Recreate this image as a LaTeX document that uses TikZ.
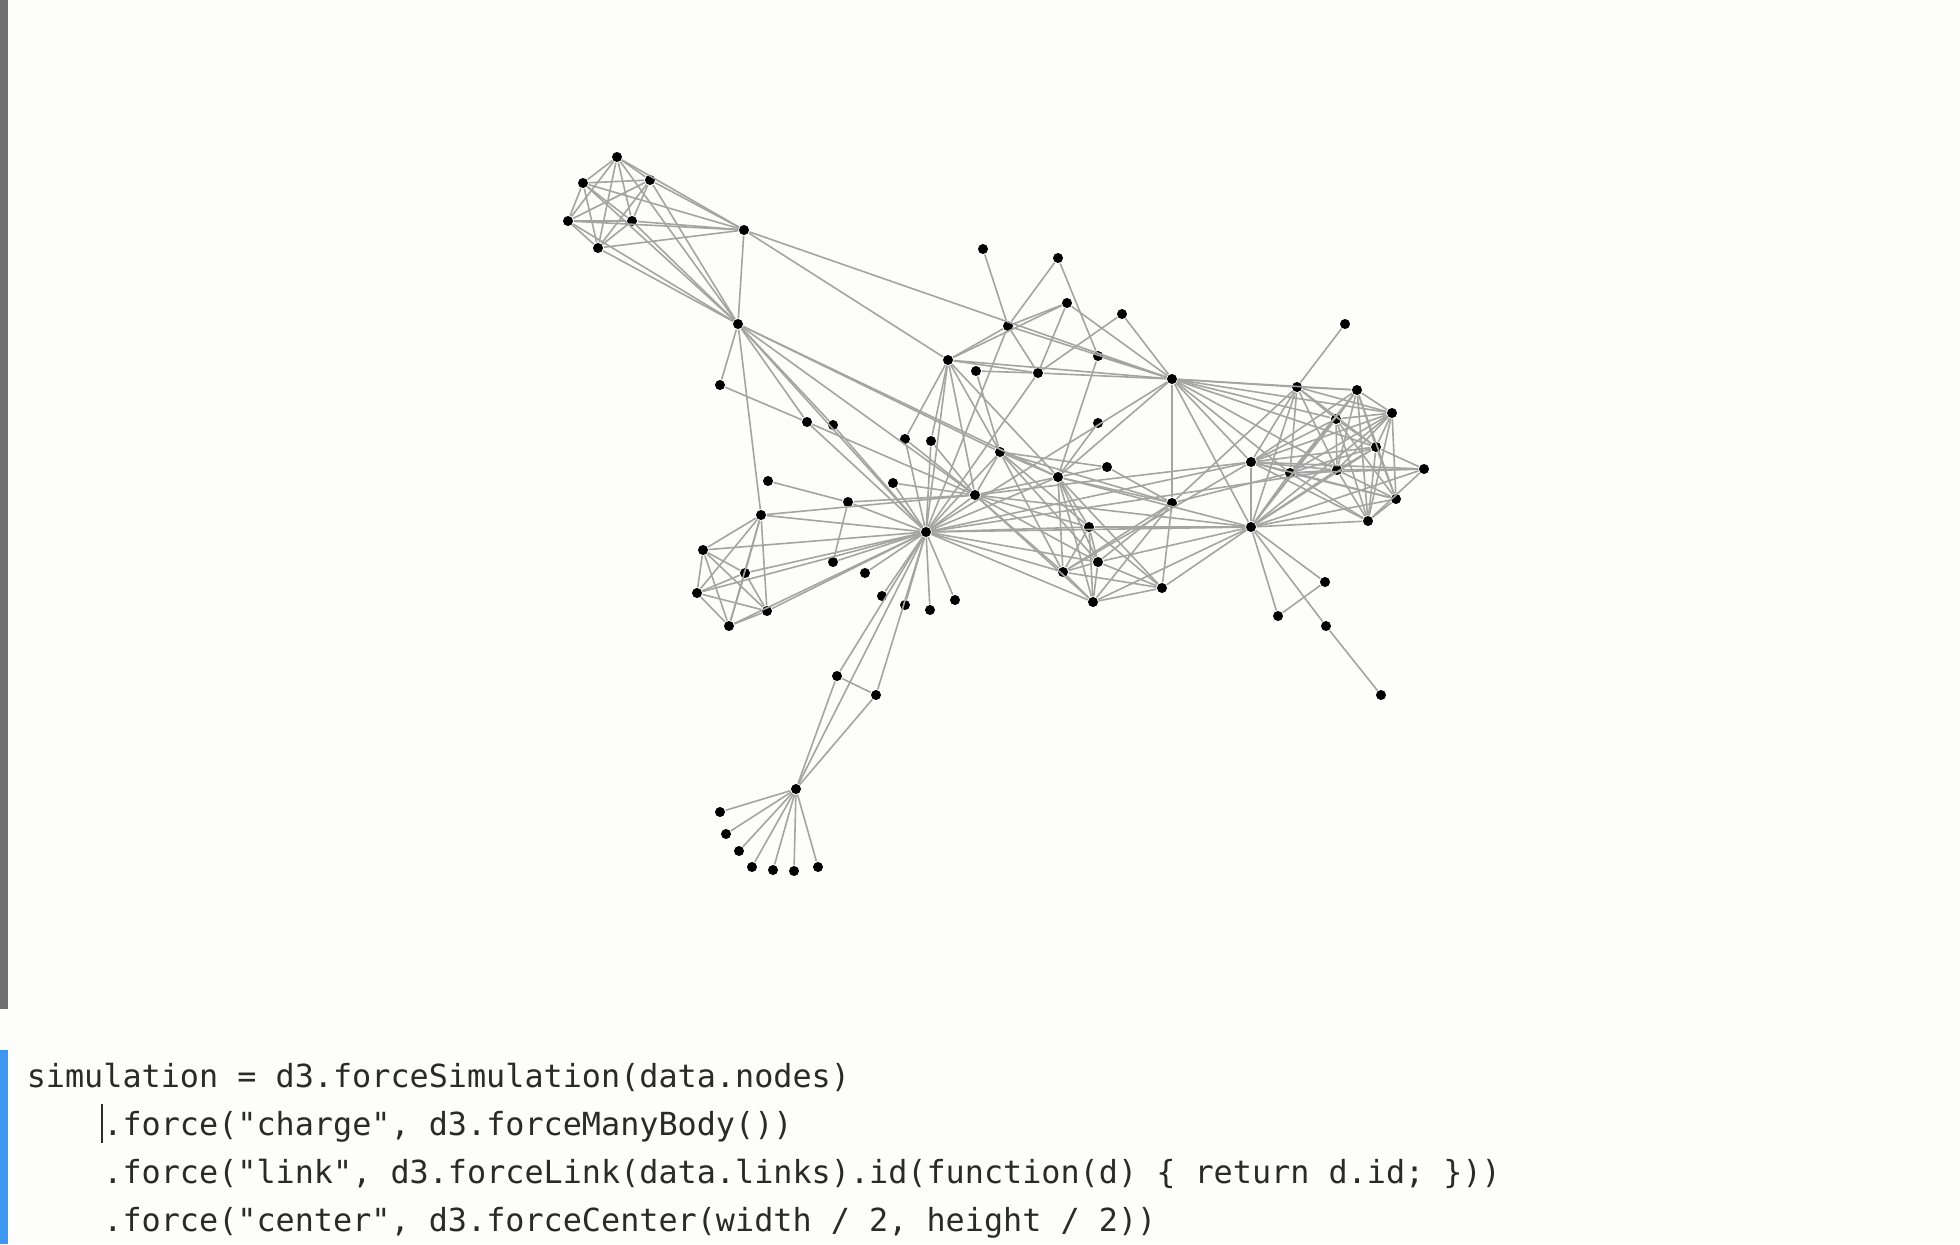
\documentclass[tikz,border=0pt]{standalone}
\usepackage{fontspec}
\setmonofont{DejaVu Sans Mono}
\definecolor{pagebg}{HTML}{FDFDFB}
\definecolor{linkgray}{HTML}{A4A4A4}
\definecolor{bargray}{HTML}{707070}
\definecolor{barblue}{HTML}{3D96F0}
\definecolor{codetext}{HTML}{2A2A2A}
\begin{document}
\begin{tikzpicture}[x=0.5pt,y=-0.5pt,
  thick,char node/.style={circle,fill=black,inner sep=0pt,minimum size=5pt},
  code line/.style={anchor=base west,inner sep=0pt,text=codetext,font=\ttfamily\fontsize{15.9}{24}\selectfont}]

  \fill[pagebg] (0,0) rectangle (1960,1244);
  \useasboundingbox (0,0) rectangle (1960,1244);
  \fill[bargray] (0,0) rectangle (8,1009);
  \fill[barblue] (0,1050) rectangle (8,1244);

  % characters
  \node[char node] (0) at (796,789) {};
  \node[char node] (1) at (720,812) {};
  \node[char node] (2) at (837,676) {};
  \node[char node] (3) at (876,695) {};
  \node[char node] (4) at (726,834) {};
  \node[char node] (5) at (739,851) {};
  \node[char node] (6) at (752,867) {};
  \node[char node] (7) at (773,870) {};
  \node[char node] (8) at (794,871) {};
  \node[char node] (9) at (818,867) {};
  \node[char node] (10) at (865,573) {};
  \node[char node] (11) at (926,532) {};
  \node[char node] (12) at (833,425) {};
  \node[char node] (13) at (882,596) {};
  \node[char node] (14) at (905,605) {};
  \node[char node] (15) at (930,610) {};
  \node[char node] (16) at (744,230) {};
  \node[char node] (17) at (617,157) {};
  \node[char node] (18) at (583,183) {};
  \node[char node] (19) at (650,180) {};
  \node[char node] (20) at (568,221) {};
  \node[char node] (21) at (632,221) {};
  \node[char node] (22) at (598,248) {};
  \node[char node] (23) at (738,324) {};
  \node[char node] (24) at (1000,452) {};
  \node[char node] (25) at (1058,477) {};
  \node[char node] (26) at (948,360) {};
  \node[char node] (27) at (975,495) {};
  \node[char node] (28) at (848,502) {};
  \node[char node] (29) at (761,515) {};
  \node[char node] (30) at (720,385) {};
  \node[char node] (31) at (807,422) {};
  \node[char node] (32) at (955,600) {};
  \node[char node] (33) at (893,483) {};
  \node[char node] (34) at (703,550) {};
  \node[char node] (35) at (745,573) {};
  \node[char node] (36) at (697,593) {};
  \node[char node] (37) at (729,626) {};
  \node[char node] (38) at (767,611) {};
  \node[char node] (39) at (1098,356) {};
  \node[char node] (40) at (1098,423) {};
  \node[char node] (41) at (1172,503) {};
  \node[char node] (42) at (1107,467) {};
  \node[char node] (43) at (905,439) {};
  \node[char node] (44) at (833,562) {};
  \node[char node] (45) at (768,481) {};
  \node[char node] (46) at (1381,695) {};
  \node[char node] (47) at (1326,626) {};
  \node[char node] (48) at (1251,527) {};
  \node[char node] (49) at (1038,373) {};
  \node[char node] (50) at (976,371) {};
  \node[char node] (51) at (1008,326) {};
  \node[char node] (52) at (1058,258) {};
  \node[char node] (53) at (983,249) {};
  \node[char node] (54) at (1067,303) {};
  \node[char node] (55) at (1172,379) {};
  \node[char node] (56) at (1122,314) {};
  \node[char node] (57) at (1297,387) {};
  \node[char node] (58) at (1251,462) {};
  \node[char node] (59) at (1336,419) {};
  \node[char node] (60) at (1396,499) {};
  \node[char node] (61) at (1357,390) {};
  \node[char node] (62) at (1290,473) {};
  \node[char node] (63) at (1392,413) {};
  \node[char node] (64) at (1337,470) {};
  \node[char node] (65) at (1376,447) {};
  \node[char node] (66) at (1368,521) {};
  \node[char node] (67) at (1345,324) {};
  \node[char node] (68) at (1098,562) {};
  \node[char node] (69) at (1089,527) {};
  \node[char node] (70) at (1063,572) {};
  \node[char node] (71) at (1093,602) {};
  \node[char node] (72) at (931,441) {};
  \node[char node] (73) at (1325,582) {};
  \node[char node] (74) at (1278,616) {};
  \node[char node] (75) at (1162,588) {};
  \node[char node] (76) at (1424,469) {};

  % links
  \path[every edge/.style={draw=linkgray}]
   (1) edge (0) (2) edge (0) (3) edge (0) (3) edge (2) (4) edge (0)
   (5) edge (0) (6) edge (0) (7) edge (0) (8) edge (0) (9) edge (0)
   (11) edge (10) (11) edge (3) (11) edge (2) (11) edge (0)
   (12) edge (11) (13) edge (11) (14) edge (11) (15) edge (11)
   (17) edge (16) (18) edge (16) (18) edge (17) (19) edge (16) (19) edge (17) (19) edge (18)
   (20) edge (16) (20) edge (17) (20) edge (18) (20) edge (19)
   (21) edge (16) (21) edge (17) (21) edge (18) (21) edge (19) (21) edge (20)
   (22) edge (16) (22) edge (17) (22) edge (18) (22) edge (19) (22) edge (20) (22) edge (21)
   (23) edge (16) (23) edge (17) (23) edge (18) (23) edge (19) (23) edge (20) (23) edge (21)
   (23) edge (22) (23) edge (12) (23) edge (11)
   (24) edge (23) (24) edge (11) (25) edge (24) (25) edge (23) (25) edge (11)
   (26) edge (24) (26) edge (11) (26) edge (16) (26) edge (25)
   (27) edge (11) (27) edge (23) (27) edge (25) (27) edge (24) (27) edge (26)
   (28) edge (11) (28) edge (27) (29) edge (23) (29) edge (27) (29) edge (11)
   (30) edge (23) (31) edge (30) (31) edge (11) (31) edge (23) (31) edge (27)
   (32) edge (11) (33) edge (11) (33) edge (27) (34) edge (11) (34) edge (29)
   (35) edge (11) (35) edge (34) (35) edge (29)
   (36) edge (34) (36) edge (35) (36) edge (11) (36) edge (29)
   (37) edge (34) (37) edge (35) (37) edge (36) (37) edge (11) (37) edge (29)
   (38) edge (34) (38) edge (35) (38) edge (36) (38) edge (37) (38) edge (11) (38) edge (29)
   (39) edge (25) (40) edge (25) (41) edge (24) (41) edge (25)
   (42) edge (41) (42) edge (25) (42) edge (24)
   (43) edge (11) (43) edge (26) (43) edge (27) (44) edge (28) (44) edge (11) (45) edge (28)
   (47) edge (46) (48) edge (47) (48) edge (25) (48) edge (27) (48) edge (11)
   (49) edge (26) (49) edge (11) (50) edge (49) (50) edge (24)
   (51) edge (49) (51) edge (26) (51) edge (11) (52) edge (51) (52) edge (39) (53) edge (51)
   (54) edge (51) (54) edge (49) (54) edge (26)
   (55) edge (51) (55) edge (49) (55) edge (39) (55) edge (54) (55) edge (26) (55) edge (11)
   (55) edge (16) (55) edge (25) (55) edge (41) (55) edge (48)
   (56) edge (49) (56) edge (55) (57) edge (55) (57) edge (41) (57) edge (48)
   (58) edge (55) (58) edge (48) (58) edge (27) (58) edge (57) (58) edge (11)
   (59) edge (58) (59) edge (55) (59) edge (48) (59) edge (57)
   (60) edge (48) (60) edge (58) (60) edge (59)
   (61) edge (48) (61) edge (58) (61) edge (60) (61) edge (59) (61) edge (57) (61) edge (55)
   (62) edge (55) (62) edge (58) (62) edge (59) (62) edge (48) (62) edge (57) (62) edge (41)
   (62) edge (61) (62) edge (60)
   (63) edge (59) (63) edge (48) (63) edge (62) (63) edge (57) (63) edge (58) (63) edge (61)
   (63) edge (60) (63) edge (55)
   (64) edge (55) (64) edge (62) (64) edge (48) (64) edge (63) (64) edge (58) (64) edge (61)
   (64) edge (60) (64) edge (59) (64) edge (57) (64) edge (11)
   (65) edge (63) (65) edge (64) (65) edge (48) (65) edge (62) (65) edge (58) (65) edge (61)
   (65) edge (60) (65) edge (59) (65) edge (57) (65) edge (55)
   (66) edge (64) (66) edge (58) (66) edge (59) (66) edge (62) (66) edge (65) (66) edge (48)
   (66) edge (63) (66) edge (61) (66) edge (60)
   (67) edge (57)
   (68) edge (25) (68) edge (11) (68) edge (24) (68) edge (27) (68) edge (48) (68) edge (41)
   (69) edge (25) (69) edge (11) (69) edge (24) (69) edge (27) (69) edge (48) (69) edge (68)
   (70) edge (25) (70) edge (11) (70) edge (24) (70) edge (27) (70) edge (41) (70) edge (58)
   (70) edge (69) (70) edge (68)
   (71) edge (27) (71) edge (69) (71) edge (68) (71) edge (70) (71) edge (11) (71) edge (48)
   (71) edge (41) (71) edge (25)
   (72) edge (26) (72) edge (27) (72) edge (11)
   (73) edge (48) (74) edge (48) (74) edge (73)
   (75) edge (69) (75) edge (68) (75) edge (25) (75) edge (48) (75) edge (41) (75) edge (70)
   (75) edge (71)
   (76) edge (64) (76) edge (65) (76) edge (62) (76) edge (48) (76) edge (58) (76) edge (66);

  % code below the graph
  \node[code line] (code1) at (26,1087) {simulation = d3.forceSimulation(data.nodes)};
  \node[code line] (code2) at (102.6,1135) {.force("charge", d3.forceManyBody())};
  \node[code line] (code3) at (102.6,1183) {.force("link", d3.forceLink(data.links).id(function(d) \{ return d.id; \}))};
  \node[code line] (code4) at (102.6,1231) {.force("center", d3.forceCenter(width / 2, height / 2))};
  \draw[codetext,line width=0.8pt] (102,1104) -- (102,1143);
\end{tikzpicture}
\end{document}
